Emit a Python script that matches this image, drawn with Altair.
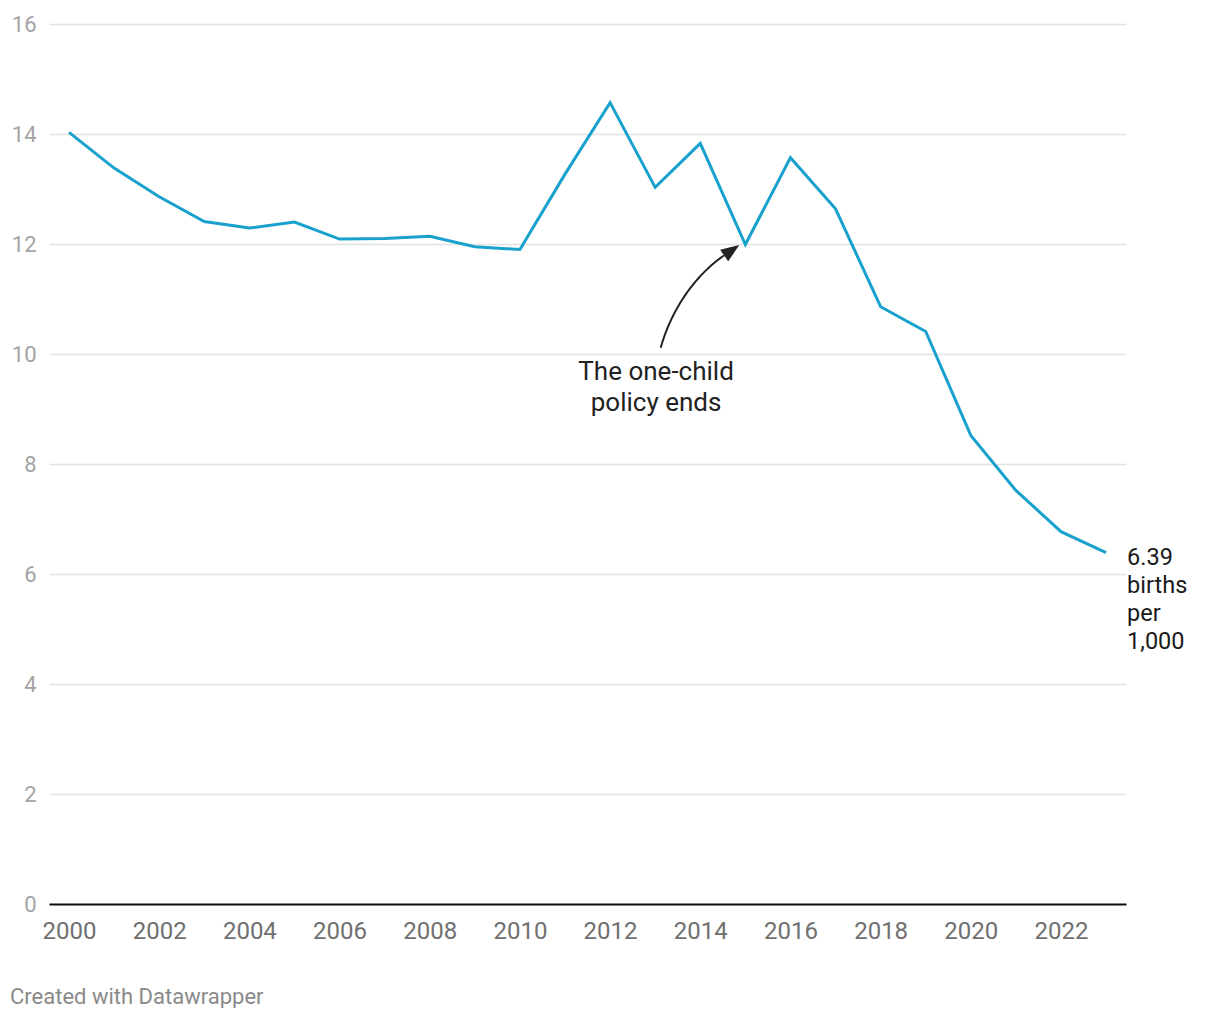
import altair as alt
import numpy as np
import pandas as pd

years = list(range(2000, 2024))
birth_rate = [14.03, 13.38, 12.86, 12.41, 12.29, 12.40, 12.09, 12.10, 12.14, 11.95,
              11.90, 13.27, 14.57, 13.03, 13.83, 11.99, 13.57, 12.64, 10.86, 10.41,
              8.52, 7.52, 6.77, 6.39]

x_ticks = list(range(2000, 2023, 2))
y_ticks = list(range(0, 17, 2))

end_label = ["6.39", "births", "per", "1,000"]
annotation_lines = ["The one-child", "policy ends"]

# annotation anchor positions (data units)
annot_year, annot_value = 2013.02, 9.53
# arrow: cubic bezier control points (year, value) and the arrow tip
arrow_ctrl_years = [2013.123, 2013.362, 2013.886, 2014.527]
arrow_ctrl_values = [10.115, 10.813, 11.431, 11.791]
arrow_tip_year, arrow_tip_value = 2014.866, 11.982

FONT = "Roboto"
BLUE = "#18a1cd"

df = pd.DataFrame({"year": years, "rate": birth_rate})

x_scale = alt.Scale(domain=[1999.556, 2023.442], nice=False, zero=False)
y_scale = alt.Scale(domain=[0, 16], nice=False)

base = alt.Chart(df)

line = base.mark_line(color=BLUE, strokeWidth=3, clip=False).encode(
    x=alt.X("year:Q", scale=x_scale, title=None,
            axis=alt.Axis(values=x_ticks, format="d", grid=False, ticks=False, tickSize=0,
                          domain=True, domainColor="#111111", domainWidth=2,
                          labelFont=FONT, labelFontSize=24, labelColor="#707070",
                          labelPadding=15)),
    y=alt.Y("rate:Q", scale=y_scale, title=None,
            axis=alt.Axis(values=y_ticks, grid=True, gridColor="#e2e2e2", gridWidth=1.5,
                          ticks=False, tickSize=0, domain=False,
                          labelFont=FONT, labelFontSize=22, labelColor="#a3a3a3",
                          labelPadding=13)),
)

# arrow body
t = np.linspace(0, 1, 40)
P = np.array(arrow_ctrl_years)
Q = np.array(arrow_ctrl_values)
bx = ((1 - t) ** 3) * P[0] + 3 * ((1 - t) ** 2) * t * P[1] + 3 * (1 - t) * t ** 2 * P[2] + t ** 3 * P[3]
by = ((1 - t) ** 3) * Q[0] + 3 * ((1 - t) ** 2) * t * Q[1] + 3 * (1 - t) * t ** 2 * Q[2] + t ** 3 * Q[3]
arrow_df = pd.DataFrame({"year": bx, "rate": by, "i": range(len(t))})

arrow = alt.Chart(arrow_df).mark_line(color="#222222", strokeWidth=2, clip=False).encode(
    x=alt.X("year:Q", scale=x_scale),
    y=alt.Y("rate:Q", scale=y_scale),
    order="i:Q",
)

head_df = pd.DataFrame({"year": [arrow_tip_year], "rate": [arrow_tip_value]})
head = alt.Chart(head_df).mark_point(
    shape="M0,0 L0.7,1.85 L-0.7,1.85 Z", size=400, angle=55,
    filled=True, color="#222222", opacity=1, strokeWidth=0,
).encode(
    x=alt.X("year:Q", scale=x_scale),
    y=alt.Y("rate:Q", scale=y_scale),
)

annot_df = pd.DataFrame({"year": [annot_year], "rate": [annot_value], "txt": [annotation_lines]})
annot = alt.Chart(annot_df).mark_text(
    font=FONT, fontSize=26, color="#222222", align="center", baseline="alphabetic",
    lineHeight=31,
).encode(
    x=alt.X("year:Q", scale=x_scale),
    y=alt.Y("rate:Q", scale=y_scale),
    text="txt",
)

end_df = pd.DataFrame({"year": [years[-1]], "rate": [birth_rate[-1]], "txt": [end_label]})
end_text = alt.Chart(end_df).mark_text(
    font=FONT, fontSize=23.5, color="#1a1a1a", align="left", baseline="alphabetic",
    lineHeight=28, dx=21, dy=12,
).encode(
    x=alt.X("year:Q", scale=x_scale),
    y=alt.Y("rate:Q", scale=y_scale),
    text="txt",
)

credit = alt.Chart(pd.DataFrame({"txt": ["Created with Datawrapper"]})).mark_text(
    font=FONT, fontSize=22, color="#8a8a8a", align="left", baseline="alphabetic",
).encode(
    x=alt.value(-39), y=alt.value(980), text="txt",
)

chart = alt.layer(line, arrow, head, annot, end_text, credit).properties(
    width=1077, height=880,
    autosize=alt.AutoSizeParams(type="none"),
    padding={"left": 41, "top": 16, "right": 86, "bottom": 104},
).configure_view(stroke=None)

chart.save("out.html", embed_options={"renderer": "svg", "actions": False})
